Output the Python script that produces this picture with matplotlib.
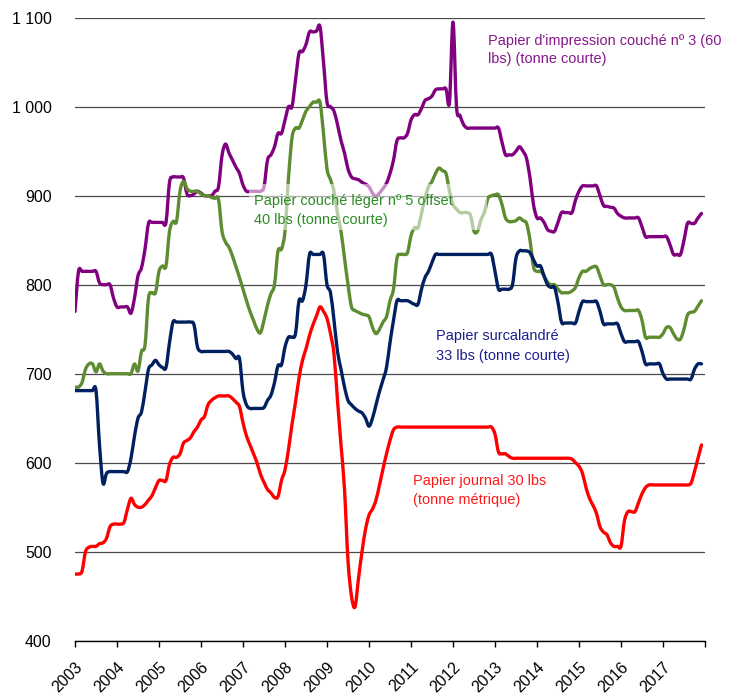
import matplotlib
matplotlib.use("Agg")
import matplotlib.pyplot as plt
from matplotlib import font_manager
from matplotlib.patches import Rectangle, PathPatch
from matplotlib.path import Path

# ---------------- data (monthly, Jan 2003 .. Dec 2017) ----------------
start_year = 2003
tick_years = list(range(2003, 2019))
tick_labels = [str(y) for y in range(2003, 2018)] + [""]
y_ticks = [400, 500, 600, 700, 800, 900, 1000, 1100]
y_tick_labels = ["400", "500", "600", "700", "800", "900", "1 000", "1 100"]

# Papier d'impression couché nº 3 (60 lbs) (tonne courte)
couche3 = [
    770, 815, 815, 815, 815, 815, 815, 802, 800, 800, 800, 785,        # 2003
    775, 775, 775, 775, 768, 785, 810, 819, 840, 869, 870, 870,        # 2004
    870, 870, 870, 915, 921, 921, 921, 920, 902, 900, 902, 905,        # 2005
    903, 900, 900, 900, 905, 910, 945, 958, 948, 940, 932, 925,        # 2006
    912, 905, 905, 905, 905, 905, 910, 940, 946, 955, 970, 970,        # 2007
    985, 1000, 1000, 1030, 1060, 1062, 1070, 1084, 1084, 1085, 1090, 1050,  # 2008
    1005, 1000, 995, 980, 962, 948, 930, 921, 919, 918, 915, 913,      # 2009
    910, 903, 899, 903, 908, 914, 925, 940, 962, 965, 965, 970,        # 2010
    985, 991, 991, 998, 1007, 1009, 1012, 1019, 1020, 1020, 1020, 1005,  # 2011
    1095, 1000, 990, 980, 976, 976, 976, 976, 976, 976, 976, 976,      # 2012
    976, 976, 960, 946, 946, 946, 950, 955, 950, 942, 920, 890,        # 2013
    875, 875, 870, 862, 860, 860, 870, 881, 881, 881, 881, 895,        # 2014
    905, 911, 911, 911, 911, 911, 900, 889, 888, 887, 886, 880,        # 2015
    877, 875, 875, 875, 875, 875, 865, 854, 854, 854, 854, 854,        # 2016
    854, 854, 845, 834, 834, 834, 850, 869, 869, 869, 875, 880,        # 2017
]

# Papier couché léger nº 5 offset 40 lbs (tonne courte)
couche5 = [
    685, 685, 690, 705, 711, 711, 702, 711, 703, 700, 700, 700,        # 2003
    700, 700, 700, 700, 700, 711, 703, 725, 732, 785, 791, 791,        # 2004
    815, 821, 821, 860, 871, 871, 905, 916, 908, 905, 905, 905,        # 2005
    902, 900, 900, 898, 897, 896, 860, 848, 842, 832, 820, 808,        # 2006
    795, 782, 770, 760, 750, 746, 760, 777, 790, 800, 838, 840,        # 2007
    860, 920, 965, 976, 976, 985, 995, 1000, 1005, 1005, 1005, 970,    # 2008
    930, 918, 905, 880, 860, 830, 800, 775, 771, 769, 767, 766,        # 2009
    764, 752, 745, 750, 758, 764, 782, 795, 830, 834, 834, 836,        # 2010
    855, 864, 864, 880, 897, 910, 916, 925, 931, 928, 925, 905,        # 2011
    890, 885, 881, 881, 881, 878, 860, 860, 873, 882, 897, 900,        # 2012
    901, 901, 890, 875, 871, 871, 872, 875, 872, 869, 850, 820,        # 2013
    815, 815, 810, 803, 800, 800, 795, 791, 791, 791, 793, 797,        # 2014
    808, 815, 815, 818, 820, 820, 810, 800, 800, 800, 797, 785,        # 2015
    775, 771, 771, 771, 771, 771, 760, 741, 741, 741, 741, 741,        # 2016
    745, 752, 752, 745, 739, 739, 750, 766, 769, 770, 776, 782,        # 2017
]

# Papier surcalandré 33 lbs (tonne courte)
surcal = [
    681, 681, 681, 681, 681, 681, 681, 620, 577, 588, 590, 590,        # 2003
    590, 590, 590, 590, 605, 630, 650, 657, 680, 705, 710, 715,        # 2004
    710, 707, 707, 735, 758, 758, 758, 758, 758, 758, 755, 730,        # 2005
    725, 725, 725, 725, 725, 725, 725, 725, 725, 722, 717, 717,        # 2006
    680, 665, 661, 661, 661, 661, 662, 670, 676, 690, 709, 710,        # 2007
    730, 741, 741, 745, 782, 782, 800, 834, 834, 834, 834, 834,        # 2008
    800, 791, 760, 725, 705, 685, 670, 665, 661, 658, 656, 650,        # 2009
    641, 650, 665, 680, 693, 707, 735, 760, 782, 782, 782, 782,        # 2010
    780, 778, 778, 795, 808, 815, 825, 834, 834, 834, 834, 834,        # 2011
    834, 834, 834, 834, 834, 834, 834, 834, 834, 834, 834, 834,        # 2012
    815, 795, 795, 795, 795, 800, 830, 838, 838, 838, 836, 828,        # 2013
    821, 821, 810, 800, 797, 797, 780, 758, 757, 757, 757, 757,        # 2014
    770, 781, 781, 781, 781, 781, 770, 756, 756, 756, 756, 756,        # 2015
    745, 736, 736, 736, 736, 736, 725, 711, 711, 711, 711, 711,        # 2016
    700, 694, 694, 694, 694, 694, 694, 694, 694, 705, 711, 711,        # 2017
]

# Papier journal 30 lbs (tonne métrique)
journal = [
    475, 475, 478, 500, 505, 506, 506, 509, 510, 515, 528, 531,        # 2003
    531, 531, 533, 548, 560, 553, 550, 550, 553, 558, 563, 572,        # 2004
    580, 580, 580, 598, 606, 606, 610, 622, 625, 628, 635, 640,        # 2005
    648, 652, 665, 670, 673, 675, 675, 675, 675, 672, 668, 663,        # 2006
    645, 630, 620, 610, 600, 587, 578, 570, 566, 561, 562, 580,        # 2007
    592, 615, 643, 668, 695, 715, 728, 743, 755, 765, 775, 770,        # 2008
    762, 745, 722, 670, 620, 570, 490, 450, 438, 470, 500, 525,        # 2009
    541, 548, 558, 575, 593, 610, 625, 637, 640, 640, 640, 640,        # 2010
    640, 640, 640, 640, 640, 640, 640, 640, 640, 640, 640, 640,        # 2011
    640, 640, 640, 640, 640, 640, 640, 640, 640, 640, 640, 640,        # 2012
    632, 612, 610, 610, 607, 605, 605, 605, 605, 605, 605, 605,        # 2013
    605, 605, 605, 605, 605, 605, 605, 605, 605, 605, 604, 600,        # 2014
    596, 588, 572, 560, 552, 543, 528, 522, 519, 510, 506, 506,        # 2015
    506, 535, 545, 545, 545, 555, 565, 572, 575, 575, 575, 575,        # 2016
    575, 575, 575, 575, 575, 575, 575, 575, 577, 590, 605, 620,        # 2017
]

series = [
    ("couche3", couche3, "#800080"),
    ("couche5", couche5, "#5E8C31"),
    ("surcal", surcal, "#002060"),
    ("journal", journal, "#FF0000"),
]

# ---------------- fonts ----------------
def pick(fams):
    for f in fams:
        try:
            font_manager.findfont(font_manager.FontProperties(family=f),
                                  fallback_to_default=False)
            return f
        except Exception:
            pass
    return "DejaVu Sans"

FONT = pick(["Liberation Sans Narrow", "Arial Narrow", "Liberation Sans"])
k = 1.0 if "Narrow" in FONT else 0.85
plt.rcParams["font.family"] = [FONT, "DejaVu Sans"]

# ---------------- figure ----------------
W, H = 733, 694
fig = plt.figure(figsize=(W / 100, H / 100), dpi=100)
ax = fig.add_axes([75 / W, (H - 640.7) / H, 630 / W, 623 / H])


def smooth_path(xs, ys):
    """Smoothed (Excel-like) line through the data points, as cubic Beziers."""
    n = len(xs)
    verts = [(xs[0], ys[0])]
    codes = [Path.MOVETO]
    for i in range(n - 1):
        x0, y0 = (xs[i - 1], ys[i - 1]) if i > 0 else (xs[i], ys[i])
        x1, y1 = xs[i], ys[i]
        x2, y2 = xs[i + 1], ys[i + 1]
        x3, y3 = (xs[i + 2], ys[i + 2]) if i + 2 < n else (x2, y2)
        c1 = (x1 + (x2 - x0) / 6.0, y1 + (y2 - y0) / 6.0)
        c2 = (x2 - (x3 - x1) / 6.0, y2 - (y3 - y1) / 6.0)
        verts += [c1, c2, (x2, y2)]
        codes += [Path.CURVE4] * 3
    return Path(verts, codes)


for name, vals, col in series:
    xs = [start_year + i / 12 for i in range(len(vals))]
    ax.add_patch(PathPatch(smooth_path(xs, vals), fill=False, edgecolor=col,
                           lw=2.4, joinstyle="round", capstyle="round",
                           zorder=3))

ax.set_xlim(2003, 2018)
ax.set_ylim(400, 1100)
ax.set_yticks(y_ticks)
ax.set_yticklabels(y_tick_labels, fontsize=13.5 * k)
ax.set_xticks(tick_years)
ax.set_xticklabels(tick_labels, fontsize=13.5 * k, rotation=45,
                   ha="right", va="top", rotation_mode="anchor")
ax.yaxis.grid(True, color="#4a4a4a", lw=0.9)
ax.set_axisbelow(True)
ax.tick_params(axis="y", length=0, pad=17)
ax.tick_params(axis="x", direction="out", length=4.5, width=1,
               color="black", pad=9)
for s in ["left", "right", "top"]:
    ax.spines[s].set_visible(False)
ax.spines["bottom"].set_color("black")
ax.spines["bottom"].set_linewidth(1)

# semi-transparent label box over the lines (green label)
fig.patches.append(Rectangle((249 / W, 1 - 230 / H), 238 / W, 46 / H,
                             transform=fig.transFigure, facecolor="white",
                             edgecolor="none", alpha=0.55, zorder=1))

def label(x, y, s, col):
    fig.text(x / W, 1 - y / H, s, color=col, fontsize=12.3 * k,
             ha="left", va="baseline", zorder=3)

label(488, 45, "Papier d'impression couché nº 3 (60", "#86198A")
label(488, 63, "lbs) (tonne courte)", "#86198A")
label(254, 205, "Papier couché léger nº 5 offset", "#2A8C22")
label(254, 224, "40 lbs (tonne courte)", "#2A8C22")
label(436, 340, "Papier surcalandré", "#1F1F8C")
label(436, 360, "33 lbs (tonne courte)", "#1F1F8C")
label(413, 485, "Papier journal 30 lbs", "#FF1A1A")
label(413, 504, "(tonne métrique)", "#FF1A1A")

fig.savefig("out.png", dpi=100)
